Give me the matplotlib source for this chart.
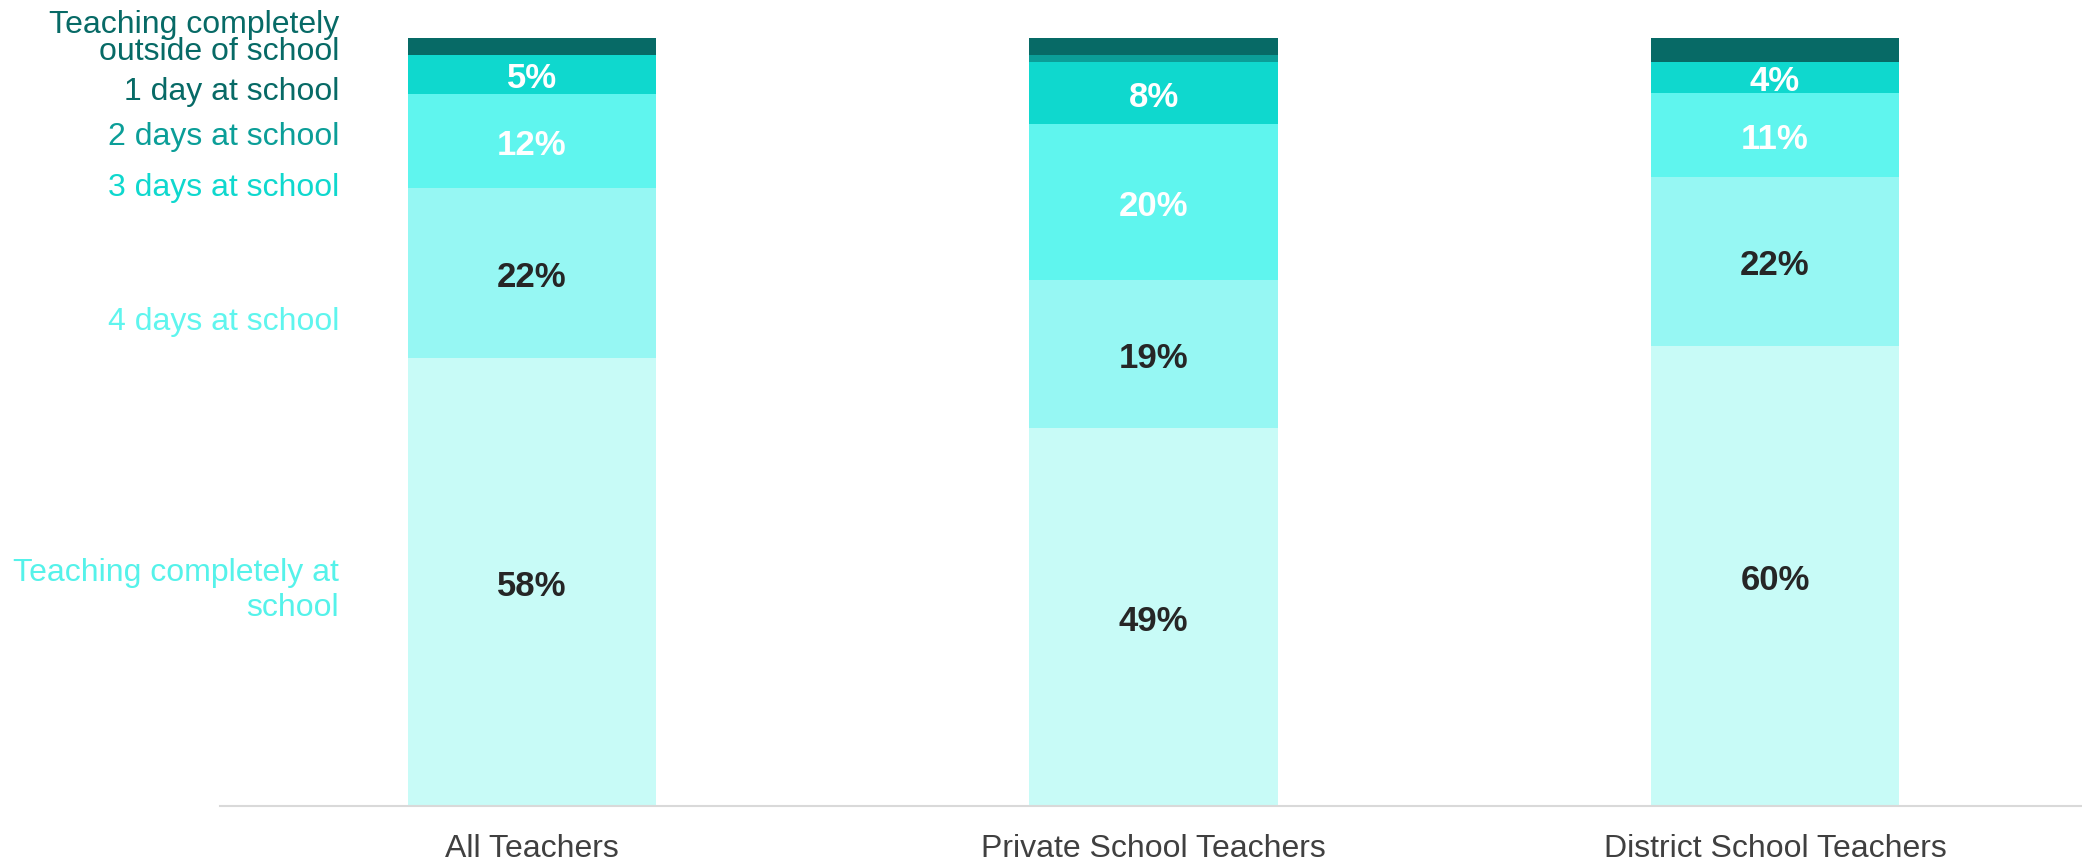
import matplotlib.pyplot as plt
from matplotlib.transforms import blended_transform_factory

plt.rcParams['font.family'] = ['Liberation Sans', 'DejaVu Sans']

groups = ['All Teachers', 'Private School Teachers', 'District School Teachers']
segments = ['Teaching completely at\nschool', '4 days at school', '3 days at school',
            '2 days at school', '1 day at school', 'Teaching completely\noutside of school']

# share of teachers per segment, bottom to top
completely_at = [58.4, 49.3, 59.9]
four_days = [22.1, 19.2, 22.1]
three_days = [12.3, 20.4, 10.9]
two_days = [5.0, 8.0, 4.0]
one_day = [0.1, 1.0, 0.1]
outside = [2.1, 2.1, 3.0]
series = [completely_at, four_days, three_days, two_days, one_day, outside]

bar_colors = ['#C8FBF7', '#96F7F3', '#5FF5EE', '#0FD8CE', '#0B9E98', '#076A66']
legend_colors = ['#55F2EA', '#5FF5EE', '#0FD8CE', '#0B9E98', '#076A66', '#076A66']
value_colors = ['#262626', '#262626', 'white', 'white', 'white', 'white']
legend_y = [28.1, 63.1, 80.5, 87.2, 93.0, 100.0]

fig = plt.figure(figsize=(20.82, 8.61), dpi=100)
ax = fig.add_axes([0.1057, 0.0639, 0.8943, 0.8914])

x = range(len(groups))
bottom = [0.0] * len(groups)
for vals, col, tcol in zip(series, bar_colors, value_colors):
    ax.bar(x, vals, width=0.40, bottom=bottom, color=col, edgecolor='none')
    for i, v in enumerate(vals):
        if v >= 4:
            ax.text(i, bottom[i] + v / 2 - 0.55, '{:.0f}%'.format(v), ha='center', va='center',
                    fontsize=25, fontweight='bold', color=tcol)
    bottom = [b + v for b, v in zip(bottom, vals)]

ax.set_xlim(-0.502, 2.494)
ax.set_ylim(0, 100)
ax.set_yticks([])
ax.set_xticks(list(x))
ax.set_xticklabels(groups, fontsize=23, color='#404040')
ax.tick_params(axis='x', length=0, pad=20)
for s in ['top', 'right', 'left']:
    ax.spines[s].set_visible(False)
ax.spines['bottom'].set_color('#D9D9D9')
ax.spines['bottom'].set_linewidth(1.5)

trans = blended_transform_factory(fig.transFigure, ax.transData)
for lab, col, yy in zip(segments, legend_colors, legend_y):
    ls = 0.85 if 'outside' in lab else 1.2
    ax.text(339 / 2082, yy, lab, transform=trans, ha='right', va='center',
            fontsize=23, color=col, linespacing=ls, clip_on=False)

fig.savefig('out.png', dpi=100)
